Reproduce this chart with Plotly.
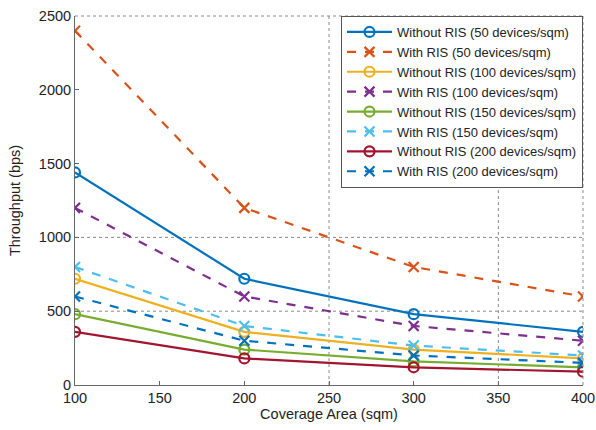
import plotly.graph_objects as go

area = [100, 200, 300, 400]

names = [
    "Without RIS (50 devices/sqm)", "With RIS (50 devices/sqm)",
    "Without RIS (100 devices/sqm)", "With RIS (100 devices/sqm)",
    "Without RIS (150 devices/sqm)", "With RIS (150 devices/sqm)",
    "Without RIS (200 devices/sqm)", "With RIS (200 devices/sqm)",
]
without_50 = [1440, 720, 480, 360]
with_50 = [2400, 1200, 800, 600]
without_100 = [720, 360, 240, 180]
with_100 = [1200, 600, 400, 300]
without_150 = [480, 240, 160, 120]
with_150 = [800, 400, 267, 200]
without_200 = [360, 180, 120, 90]
with_200 = [600, 300, 200, 150]

series = [without_50, with_50, without_100, with_100,
          without_150, with_150, without_200, with_200]
colors = ["#0072BD", "#D95319", "#EDB120", "#7E2F8E",
          "#77AC30", "#4DBEEE", "#A2142F", "#0072BD"]

x_ticks = [100, 150, 200, 250, 300, 350, 400]
y_ticks = [0, 500, 1000, 1500, 2000, 2500]
grid_x = [250, 350]
grid_y = [500, 1000]

fig = go.Figure()
for nm, ys, c in zip(names, series, colors):
    with_ris = nm.startswith("With ")
    fig.add_trace(go.Scatter(
        x=area, y=ys, name=nm, mode="lines+markers",
        line=dict(color=c, width=2.2, dash="dash" if with_ris else "solid"),
        marker=dict(symbol="x-thin-open" if with_ris else "circle-open",
                    size=10, color=c, line=dict(width=2.2, color=c)),
    ))

grid_style = dict(color="#8a8a8a", width=1, dash="dot")
shapes = []
for gx in grid_x:
    shapes.append(dict(type="line", xref="x", yref="paper", x0=gx, x1=gx, y0=0, y1=1,
                       line=grid_style, layer="below"))
for gy in grid_y:
    shapes.append(dict(type="line", xref="paper", yref="y", x0=0, x1=1, y0=gy, y1=gy,
                       line=grid_style, layer="below"))
shapes.append(dict(type="line", xref="paper", yref="paper", x0=0, x1=1, y0=1, y1=1,
                   line=grid_style))
shapes.append(dict(type="line", xref="paper", yref="paper", x0=1, x1=1, y0=0, y1=1,
                   line=grid_style))

font_family = "Liberation Sans, Arial, sans-serif"
axis_common = dict(showgrid=False, zeroline=False, automargin=False,
                   showline=True, linecolor="#666", linewidth=1,
                   ticks="inside", ticklen=4, tickcolor="#666",
                   tickfont=dict(size=14.5, color="#222"))
fig.update_layout(
    width=596, height=430,
    margin=dict(l=75, r=13, t=16, b=45),
    paper_bgcolor="white", plot_bgcolor="white",
    font=dict(family=font_family, color="#222", size=14),
    shapes=shapes,
    showlegend=True,
    legend=dict(x=1, y=1, xanchor="right", yanchor="top",
                bgcolor="white", bordercolor="#555", borderwidth=1,
                font=dict(size=13, family=font_family, color="#222"),
                tracegroupgap=0, itemwidth=45),
    xaxis=dict(range=[100, 400], tickvals=x_ticks,
               title=dict(text="Coverage Area (sqm)", standoff=2, font=dict(size=14.5)),
               **axis_common),
    yaxis=dict(range=[0, 2500], tickvals=y_ticks,
               title=dict(text="Throughput (bps)", standoff=14, font=dict(size=14.5)),
               **axis_common),
)

fig.write_html("out.html", config={"displayModeBar": False},
               post_script="document.body.style.margin='0';document.body.style.padding='0';")
